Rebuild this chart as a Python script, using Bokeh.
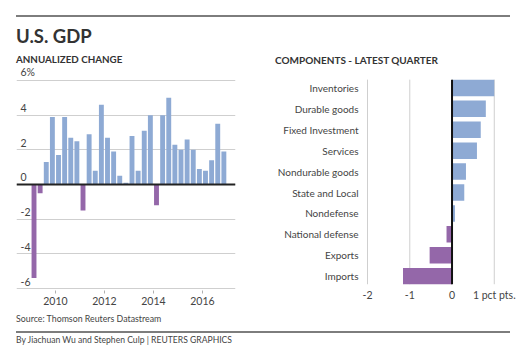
from bokeh.plotting import figure
from bokeh.models import Div, Range1d, FixedTicker, Span, ColumnDataSource, LabelSet
from bokeh.layouts import column, row
from bokeh.embed import file_html
from bokeh.resources import INLINE
from bokeh.core.properties import value

# ---------------- data ----------------
quarters = ["2009Q1", "2009Q2", "2009Q3", "2009Q4",
            "2010Q1", "2010Q2", "2010Q3", "2010Q4",
            "2011Q1", "2011Q2", "2011Q3", "2011Q4",
            "2012Q1", "2012Q2", "2012Q3", "2012Q4",
            "2013Q1", "2013Q2", "2013Q3", "2013Q4",
            "2014Q1", "2014Q2", "2014Q3", "2014Q4",
            "2015Q1", "2015Q2", "2015Q3", "2015Q4",
            "2016Q1", "2016Q2", "2016Q3", "2016Q4"]
gdp_change = [-5.4, -0.5, 1.3, 3.9,
              1.7, 3.9, 2.7, 2.5,
              -1.5, 2.9, 0.8, 4.6,
              2.7, 1.9, 0.5, 0.1,
              2.8, 0.8, 3.1, 4.0,
              -1.2, 4.0, 5.0, 2.3,
              2.0, 2.6, 2.0, 0.9,
              0.8, 1.4, 3.5, 1.9]
gdp_y_ticks = [-6, -4, -2, 0, 2, 4, 6]
gdp_y_labels = ["-6", "-4", "-2", "0", "2", "4", "6%"]
gdp_x_ticks = [2010, 2012, 2014, 2016]

components = ["Inventories", "Durable goods", "Fixed Investment", "Services",
              "Nondurable goods", "State and Local", "Nondefense",
              "National defense", "Exports", "Imports"]
contributions = [1.0, 0.8, 0.68, 0.59, 0.33, 0.29, 0.07, -0.13, -0.53, -1.16]
comp_x_ticks = [-2, -1, 0, 1]
comp_x_labels = ["-2", "-1", "0", "1 pct pts."]

BLUE = "#8eaad4"
PURPLE = "#9467a9"
GRID = "#cfcfcf"
TXT = "#444444"
FONT = "Lato"

# ---------------- left chart ----------------
qx = [int(q[:4]) + (int(q[5]) - 0.5) / 4 for q in quarters]
src1 = ColumnDataSource(dict(x=qx, v=gdp_change,
                             c=[BLUE if v >= 0 else PURPLE for v in gdp_change]))

p1 = figure(frame_width=219, frame_height=224, title=None,
            x_range=Range1d(2008.41, 2017.35), y_range=Range1d(-6.115, 6.807),
            min_border_left=8, min_border_right=27, min_border_top=0, min_border_bottom=24,
            output_backend="svg", toolbar_location=None)
p1.outline_line_color = None
p1.background_fill_color = None
p1.border_fill_color = None
p1.yaxis.ticker = FixedTicker(ticks=gdp_y_ticks)
p1.yaxis.visible = False
p1.ygrid.ticker = FixedTicker(ticks=gdp_y_ticks)
p1.ygrid.grid_line_color = GRID
p1.xgrid.visible = False
p1.xaxis.ticker = FixedTicker(ticks=gdp_x_ticks)
p1.xaxis.axis_line_color = None
p1.xaxis.major_tick_line_color = "#b0b0b0"
p1.xaxis.major_tick_out = 3
p1.xaxis.major_tick_in = 0
p1.xaxis.minor_tick_line_color = None
p1.xaxis.minor_tick_out = 0
p1.xaxis.major_label_standoff = 3
p1.xaxis.major_label_text_font = FONT
p1.xaxis.major_label_text_font_size = "10.5px"
p1.xaxis.major_label_text_color = TXT

p1.vbar(x="x", top="v", bottom=0, width=0.2, fill_color="c", line_color=None, source=src1)
p1.add_layout(Span(location=0, dimension="width", line_color="#222222", line_width=2))

lab1 = ColumnDataSource(dict(x=[p1.x_range.start] * len(gdp_y_ticks), y=gdp_y_ticks, t=gdp_y_labels))
p1.add_layout(LabelSet(x="x", y="y", text="t", source=lab1, x_offset=4, y_offset=3,
                       text_baseline="bottom", text_align="left", text_line_height=1.0,
                       text_font=value(FONT), text_font_size="10.5px", text_color=TXT))

# ---------------- right chart ----------------
n = len(components)
ypos = list(range(n))
src2 = ColumnDataSource(dict(y=ypos, v=contributions,
                             c=[BLUE if v >= 0 else PURPLE for v in contributions]))

p2 = figure(frame_width=144, frame_height=218, title=None,
            x_range=Range1d(-2.024, 1.384), y_range=Range1d(9.397, -1.023),
            min_border_left=104, min_border_right=6, min_border_top=0, min_border_bottom=30,
            output_backend="svg", toolbar_location=None)
p2.outline_line_color = None
p2.background_fill_color = None
p2.border_fill_color = None
p2.ygrid.visible = False
p2.xgrid.visible = False
p2.xaxis.ticker = FixedTicker(ticks=comp_x_ticks)
p2.xaxis.major_label_overrides = {t: s for t, s in zip(comp_x_ticks, comp_x_labels)}
p2.xaxis.axis_line_color = None
p2.xaxis.major_tick_line_color = None
p2.xaxis.major_tick_out = 0
p2.xaxis.major_tick_in = 0
p2.xaxis.minor_tick_line_color = None
p2.xaxis.minor_tick_out = 0
p2.xaxis.major_label_standoff = 4
p2.xaxis.major_label_text_font = FONT
p2.xaxis.major_label_text_font_size = "10.5px"
p2.xaxis.major_label_text_color = TXT

p2.yaxis.ticker = FixedTicker(ticks=ypos)
p2.yaxis.major_label_overrides = {i: s for i, s in enumerate(components)}
p2.yaxis.axis_line_color = None
p2.yaxis.major_tick_line_color = None
p2.yaxis.major_tick_out = 0
p2.yaxis.major_tick_in = 0
p2.yaxis.minor_tick_line_color = None
p2.yaxis.minor_tick_out = 0
p2.yaxis.major_label_standoff = 8
p2.yaxis.major_label_text_font = FONT
p2.yaxis.major_label_text_font_size = "10px"
p2.yaxis.major_label_text_color = TXT

BAR_H = 0.79
grid_x = [t for t in comp_x_ticks if t != 0]
p2.segment(x0=grid_x, x1=grid_x, y0=[-BAR_H / 2] * len(grid_x), y1=[n - 1 + BAR_H / 2] * len(grid_x),
           line_color=GRID, line_width=1)
p2.hbar(y="y", right="v", left=0, height=BAR_H, fill_color="c", line_color=None, source=src2)
p2.segment(x0=[0], x1=[0], y0=[-BAR_H / 2], y1=[n - 1 + BAR_H / 2], line_color="#111111", line_width=2)

# ---------------- header / footer ----------------
header = Div(width=508, height=58, margin=0, text=f"""
<div style="position:relative;width:508px;height:58px;font-family:{FONT};color:#333;">
  <div style="position:absolute;left:8px;top:7px;width:494px;height:0;border-top:2px solid #7d7d7d;"></div>
  <div style="position:absolute;left:8px;top:17px;font-size:18.5px;line-height:1.2;font-weight:bold;white-space:nowrap;">U.S. GDP</div>
  <div style="position:absolute;left:8px;top:46px;font-size:9.8px;line-height:1.2;font-weight:bold;white-space:nowrap;">ANNUALIZED CHANGE</div>
  <div style="position:absolute;left:267px;top:46px;font-size:10px;line-height:1.2;font-weight:bold;white-space:nowrap;">COMPONENTS - LATEST QUARTER</div>
</div>""")

footer = Div(width=508, height=33, margin=0, text=f"""
<div style="position:relative;width:508px;height:33px;font-family:{FONT};color:#444;">
  <div style="position:absolute;left:8px;top:0px;font-size:8.8px;line-height:1.2;white-space:nowrap;">Source: Thomson Reuters Datastream</div>
  <div style="position:absolute;left:8px;top:17px;width:494px;height:0;border-top:2px solid #7d7d7d;"></div>
  <div style="position:absolute;left:8px;top:21px;font-size:8.6px;line-height:1.2;white-space:nowrap;">By Jiachuan Wu and Stephen Culp | REUTERS GRAPHICS</div>
</div>""")

layout = column(header, row(p1, p2, spacing=0), footer, spacing=0, margin=(8, 0, 0, 8))

with open("out.html", "w") as f:
    f.write(file_html(layout, INLINE))
